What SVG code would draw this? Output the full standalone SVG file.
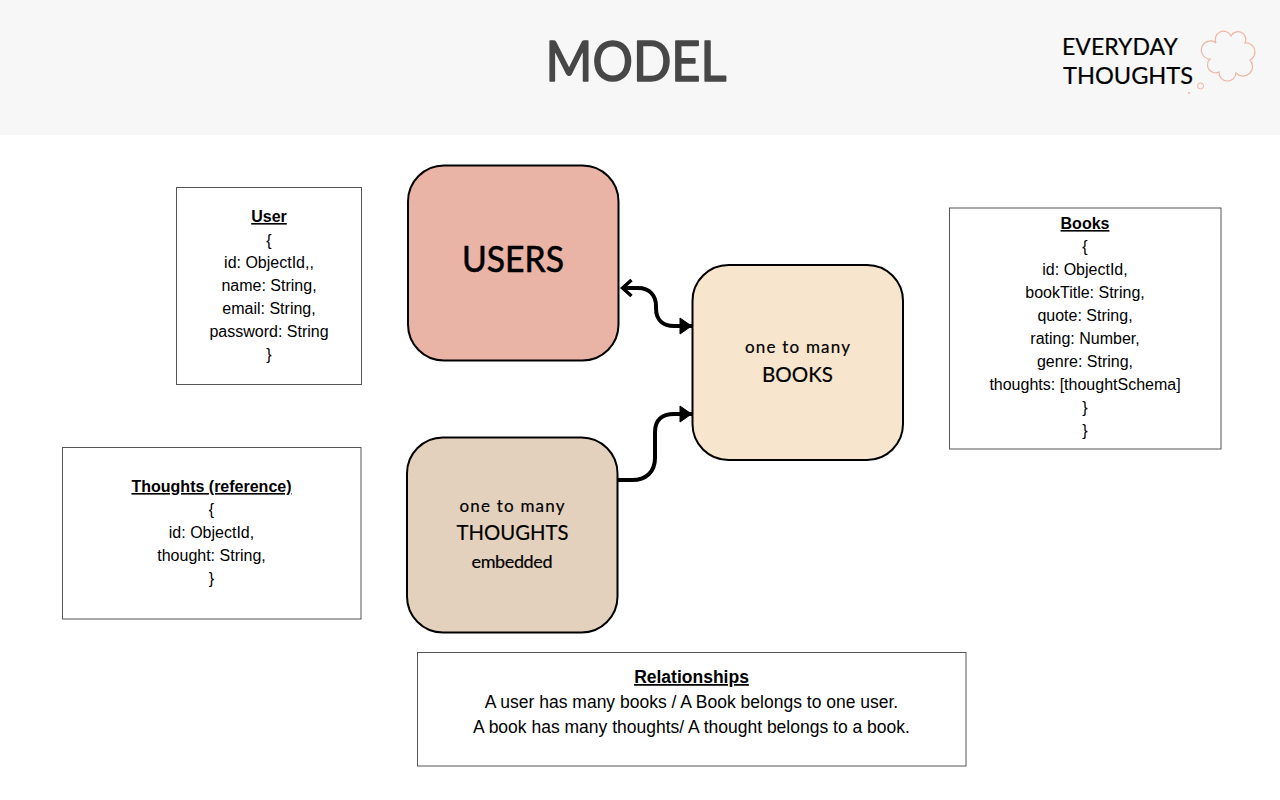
<svg xmlns="http://www.w3.org/2000/svg" width="1280" height="800" viewBox="0 0 1280 800">
<style>
.box{fill:#fff;stroke:#555;stroke-width:1}
.node{stroke:#000;stroke-width:2}
.t{font-family:"Liberation Sans",Arial,sans-serif;font-size:16px;fill:#000;text-anchor:middle}
.b{font-weight:700;text-decoration:underline}
.r{font-size:17.5px}
.h{font-family:Lato,"Noto Sans",sans-serif;text-anchor:middle;fill:#000;stroke:#000;stroke-width:.2px;stroke-linejoin:round}
.c{fill:none;stroke:#000;stroke-width:4}
.cloud{fill:none;stroke:#eeb5a5;stroke-width:1.2}
</style>
<defs>
<marker id="tri" markerUnits="userSpaceOnUse" markerWidth="15" markerHeight="20" refX="13.500" refY="10" orient="auto"><path d="M1.500 2L13 10L1.500 18Z" fill="#000" stroke="#000" stroke-linejoin="round"/></marker>
<marker id="open" markerUnits="userSpaceOnUse" markerWidth="14" markerHeight="22" refX="2" refY="11" orient="auto"><path d="M11.500 3L2.500 11L11.500 19" fill="none" stroke="#000" stroke-width="3.500"/></marker>
</defs>
<rect id="header" width="1280" height="135" fill="#f7f7f7"/>
<text class="h" x="636" y="81" font-size="56" textLength="181" lengthAdjust="spacingAndGlyphs" style="fill:#474747;stroke:#474747;stroke-width:1.600px">MODEL</text>
<g id="logo">
<text class="h" x="1120" y="55" font-size="23" textLength="116" lengthAdjust="spacingAndGlyphs">EVERYDAY</text>
<text class="h" x="1128" y="84" font-size="23" textLength="130" lengthAdjust="spacingAndGlyphs">THOUGHTS</text>
<path class="cloud" d="M1216 43A8 8 0 0 1 1231 36A7 7 0 0 1 1245 43A9 9 0 0 1 1250 60A8 8 0 0 1 1236 73A8 8 0 0 1 1219 72A8 8 0 0 1 1210 59A9 9 0 1 1 1216 43Z"/>
<circle cx="1200.500" cy="86" r="3" fill="none" stroke="#eeb5a5" stroke-width="1"/>
<circle cx="1189" cy="93" r="1" fill="#eeb5a5"/>
</g>
<g id="connectors">
<path class="c" d="M622 288H638C650 288 656 296 656 306V308C656 320 663 326 674 326H692" marker-start="url(#open)" marker-end="url(#tri)"/>
<path class="c" d="M618 480H632C646 480 655 472 655 458V432C655 420 662 414 674 414H692" marker-end="url(#tri)"/>
</g>
<g id="users"><rect class="node" x="408" y="165.500" width="210.500" height="195" rx="36" fill="#e9b3a5"/>
<text class="h" x="513" y="272" font-size="36" textLength="102" lengthAdjust="spacingAndGlyphs" style="stroke-width:.6px">USERS</text></g>
<g id="books"><rect class="node" x="692.500" y="265" width="210.500" height="195" rx="36" fill="#f7e5cd"/>
<text class="h" x="797.500" y="353" font-size="17" textLength="105" lengthAdjust="spacing">one to many</text>
<text class="h" x="797.500" y="382" font-size="22" textLength="71" lengthAdjust="spacingAndGlyphs">BOOKS</text></g>
<g id="thoughts"><rect class="node" x="407" y="437.500" width="210.500" height="195" rx="36" fill="#e4d1bd"/>
<text class="h" x="512" y="512" font-size="17" textLength="105" lengthAdjust="spacing">one to many</text>
<text class="h" x="512.500" y="540" font-size="22" textLength="112" lengthAdjust="spacingAndGlyphs">THOUGHTS</text>
<text class="h" x="512" y="568" font-size="18" textLength="81" lengthAdjust="spacing">embedded</text></g>
<g id="user-schema"><rect class="box" x="176.500" y="187.500" width="185" height="197"/>
<text class="t b" x="269" y="222">User</text><text class="t" x="269" y="246">{</text><text class="t" x="269" y="268">id: ObjectId,,</text><text class="t" x="269" y="291">name: String,</text><text class="t" x="269" y="314">email: String,</text><text class="t" x="269" y="337">password: String</text><text class="t" x="269" y="360">}</text></g>
<g id="books-schema"><rect class="box" x="949.500" y="208" width="271.500" height="241"/>
<text class="t b" x="1085" y="229">Books</text><text class="t" x="1085" y="252">{</text><text class="t" x="1085" y="275">id: ObjectId,</text><text class="t" x="1085" y="298">bookTitle: String,</text><text class="t" x="1085" y="321">quote: String,</text><text class="t" x="1085" y="344">rating: Number,</text><text class="t" x="1085" y="367">genre: String,</text><text class="t" x="1085" y="390">thoughts: [thoughtSchema]</text><text class="t" x="1085" y="413">}</text><text class="t" x="1085" y="436">}</text></g>
<g id="thoughts-schema"><rect class="box" x="62.500" y="447.500" width="298.500" height="171.500"/>
<text class="t b" x="211.500" y="492">Thoughts (reference)</text><text class="t" x="211.500" y="515">{</text><text class="t" x="211.500" y="538">id: ObjectId,</text><text class="t" x="211.500" y="561">thought: String,</text><text class="t" x="211.500" y="584">}</text></g>
<g id="relationships"><rect class="box" x="417.500" y="652.500" width="548.500" height="113.500"/>
<text class="t r b" x="691.500" y="683">Relationships</text><text class="t r" x="691.500" y="708">A user has many books / A Book belongs to one user.</text><text class="t r" x="691.500" y="733">A book has many thoughts/ A thought belongs to a book.</text></g>
</svg>
